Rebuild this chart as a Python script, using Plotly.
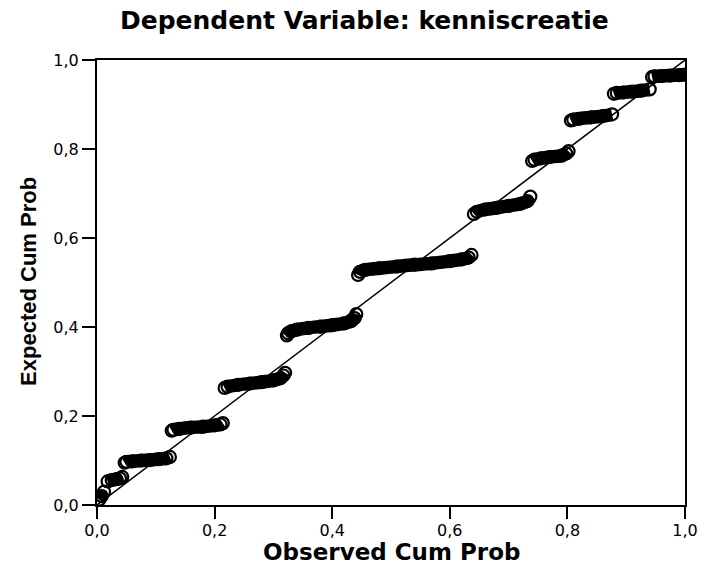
import plotly.graph_objects as go

# ---- data (observed vs expected cumulative probability) ----
cluster_obs = [
    [0.004, 0.008, 0.012],
    [0.018, 0.025, 0.033, 0.039, 0.043],
    [0.047, 0.050, 0.060, 0.075, 0.090, 0.105, 0.118, 0.124],
    [0.127, 0.130, 0.140, 0.160, 0.180, 0.200, 0.210, 0.214],
    [0.217, 0.222, 0.240, 0.260, 0.280, 0.300, 0.312, 0.317, 0.320],
    [0.323, 0.325, 0.330, 0.340, 0.360, 0.380, 0.400, 0.420, 0.432, 0.438, 0.441],
    [0.444, 0.447, 0.455, 0.480, 0.510, 0.540, 0.570, 0.600, 0.620, 0.632, 0.637],
    [0.641, 0.646, 0.660, 0.680, 0.700, 0.720, 0.732, 0.737],
    [0.740, 0.744, 0.755, 0.770, 0.790, 0.798, 0.802],
    [0.806, 0.810, 0.820, 0.840, 0.860, 0.876],
    [0.879, 0.884, 0.895, 0.910, 0.925, 0.940],
    [0.944, 0.948, 0.960, 0.975, 0.990, 1.000],
]
cluster_exp = [
    [0.012, 0.020, 0.030],
    [0.053, 0.056, 0.058, 0.060, 0.063],
    [0.095, 0.097, 0.098, 0.100, 0.101, 0.103, 0.105, 0.108],
    [0.167, 0.169, 0.171, 0.174, 0.176, 0.179, 0.181, 0.184],
    [0.263, 0.266, 0.270, 0.273, 0.276, 0.280, 0.285, 0.291, 0.297],
    [0.381, 0.386, 0.390, 0.394, 0.398, 0.401, 0.404, 0.408, 0.413, 0.420, 0.429],
    [0.517, 0.524, 0.528, 0.532, 0.536, 0.540, 0.543, 0.548, 0.552, 0.556, 0.562],
    [0.654, 0.659, 0.664, 0.668, 0.672, 0.677, 0.683, 0.693],
    [0.773, 0.776, 0.779, 0.782, 0.785, 0.790, 0.795],
    [0.864, 0.866, 0.868, 0.871, 0.874, 0.878],
    [0.924, 0.926, 0.927, 0.929, 0.931, 0.934],
    [0.962, 0.963, 0.964, 0.965, 0.966, 0.967],
]
ref_line_x = [0.0, 1.0]
ref_line_y = [0.0, 1.0]

tick_vals = [0.0, 0.2, 0.4, 0.6, 0.8, 1.0]
tick_text = ["0,0", "0,2", "0,4", "0,6", "0,8", "1,0"]

title_text = "Dependent Variable: kenniscreatie"
x_title = "Observed Cum Prob"
y_title = "Expected Cum Prob"

# ---- figure ----
fig = go.Figure()
fig.add_trace(go.Scatter(x=ref_line_x, y=ref_line_y, mode="lines",
                         line=dict(color="black", width=1.5),
                         hoverinfo="skip", showlegend=False))

# thick band joining the densely packed points of each cluster
for xs, ys in zip(cluster_obs, cluster_exp):
    fig.add_trace(go.Scatter(
        x=xs, y=ys, mode="lines",
        line=dict(color="black", width=13.5, shape="spline", smoothing=0.6),
        showlegend=False, hoverinfo="skip"))

# the points themselves (open circles)
for xs, ys in zip(cluster_obs, cluster_exp):
    fig.add_trace(go.Scatter(
        x=xs, y=ys, mode="markers",
        marker=dict(symbol="circle-open", size=12, color="black",
                    line=dict(color="black", width=2.2)),
        showlegend=False))

tick_font = dict(family="DejaVu Sans", size=16, color="black")
axis_common = dict(range=[0, 1], tickvals=tick_vals, ticktext=tick_text,
                   ticks="outside", ticklen=13, tickwidth=2, tickcolor="black",
                   showline=True, linecolor="black", linewidth=2, mirror=True,
                   showgrid=False, zeroline=False, tickfont=tick_font)

fig.update_xaxes(**axis_common)
fig.update_yaxes(**axis_common)
fig.update_xaxes(ticklen=12, ticklabelstandoff=-2)

fig.update_layout(
    width=710, height=566,
    margin=dict(l=97, r=17, t=60, b=61),
    paper_bgcolor="white", plot_bgcolor="white",
    showlegend=False,
    annotations=[
        dict(text="<b>%s</b>" % title_text, xref="paper", yref="paper",
             x=(368 - 97) / 596, y=(505 - 20) / 445, xanchor="center", yanchor="middle",
             showarrow=False, font=dict(family="DejaVu Sans", size=25, color="black")),
        dict(text="<b>%s</b>" % x_title, xref="paper", yref="paper",
             x=(396 - 97) / 596, y=(505 - 552) / 445, xanchor="center", yanchor="middle",
             showarrow=False, font=dict(family="DejaVu Sans", size=23, color="black")),
        dict(text="<b>%s</b>" % y_title, xref="paper", yref="paper",
             x=(27 - 97) / 596, y=(505 - 281) / 445, xanchor="center", yanchor="middle",
             textangle=-90, showarrow=False,
             font=dict(family="Liberation Sans", size=22, color="black")),
    ],
)

fig.write_html("out.html")
